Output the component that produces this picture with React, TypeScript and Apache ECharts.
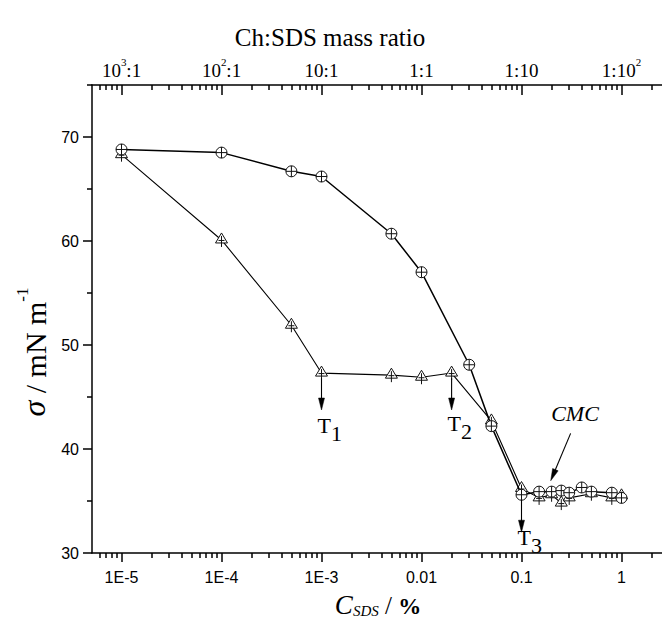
import React, { useEffect, useRef } from 'react';
import * as echarts from 'echarts';

// ---- data ----
const decadeValues = [1e-5, 1e-4, 1e-3, 0.01, 0.1, 1];
const bottomTickLabels = ['1E-5', '1E-4', '1E-3', '0.01', '0.1', '1'];
const topTickLabels = ['10^3:1', '10^2:1', '10:1', '1:1', '1:10', '1:10^2'];
const yTickValues = [30, 40, 50, 60, 70];
const yMinorTickValues = [35, 45, 55, 65, 75];

const circleConc = [1e-5, 1e-4, 5e-4, 1e-3, 5e-3, 0.01, 0.03, 0.05, 0.1, 0.15, 0.2, 0.25, 0.3, 0.4, 0.5, 0.8, 1.0];
const circleSigma = [68.8, 68.5, 66.7, 66.2, 60.7, 57.0, 48.1, 42.2, 35.6, 35.9, 35.9, 36.0, 35.8, 36.3, 35.9, 35.8, 35.3];

const triangleConc = [1e-5, 1e-4, 5e-4, 1e-3, 5e-3, 0.01, 0.02, 0.05, 0.1, 0.15, 0.2, 0.25, 0.3, 0.5, 0.8, 1.0];
const triangleSigma = [68.3, 60.1, 51.9, 47.3, 47.1, 46.9, 47.3, 42.7, 36.2, 35.3, 35.6, 34.8, 35.3, 35.7, 35.3, 35.5];

// transition annotations (T1, T2, T3)
const transitionNames = ['1', '2', '3'];
const transitionConc = [1e-3, 0.02, 0.1];
const transitionFrom = [46.8, 46.8, 35.1];
const transitionTo = [43.75, 43.75, 32.0];

// CMC annotation
const cmcText = 'CMC';
const cmcArrowFrom = [0.31, 41.5];
const cmcArrowTo = [0.196, 36.95];
const cmcTextAt = [0.343, 43.4];

// ---- layout / styles ----
const X_MIN = -5.295;
const X_MAX = 0.405;
const serif = '"Liberation Serif", "Times New Roman", serif';
const sans = '"Liberation Sans", Arial, sans-serif';
const labelDy = [15, 13, 5];

const majorLogs = decadeValues.map((v) => Math.log10(v));
const minorLogs: number[] = [];
for (let k = -6; k <= 0; k++) {
  for (let m = 2; m <= 9; m++) {
    const l = Math.log10(m * Math.pow(10, k));
    if (l > X_MIN && l < X_MAX) minorLogs.push(l);
  }
}

const circleSymbol = 'path://M10,5 A5,5 0 1,1 0,5 A5,5 0 1,1 10,5 Z M0,5 L10,5 M5,0 L5,10';
const triangleSymbol = 'path://M6,0 L12,10 L0,10 Z M6,3 L6,14 M3,7.5 L9,7.5';

function topRich(s: string) {
  const parts = s.split('^');
  if (parts.length === 1) return '{n|' + s + '}';
  const sup = parts[1].charAt(0);
  const rest = parts[1].slice(1);
  return '{n|' + parts[0] + '}{s|' + sup + '}' + (rest ? '{n|' + rest + '}' : '');
}

const axisLine = { show: true, onZero: false, lineStyle: { color: '#000', width: 1.5 } };
const noLine = { show: false, onZero: false };
const tickStyle = { color: '#000', width: 1.5 };

export default function App() {
  const ref = useRef<HTMLDivElement>(null);
  useEffect(() => {
    document.body.style.margin = '0';
    if (!ref.current) return;
    const chart = echarts.init(ref.current, undefined, { renderer: 'svg' });
    const idx = (v: number) => Math.round(v) + 5;
    const option: any = {
      animation: false,
      grid: { left: 92, right: 0, top: 85, bottom: 78, containLabel: false },
      xAxis: [
        {
          type: 'value', position: 'bottom', min: X_MIN, max: X_MAX,
          splitLine: { show: false }, axisLine,
          axisTick: { show: true, customValues: majorLogs, length: 9, lineStyle: tickStyle },
          axisLabel: {
            show: true, customValues: majorLogs, margin: 16, fontSize: 16, fontFamily: sans, color: '#000',
            formatter: (v: number) => bottomTickLabels[idx(v)] ?? '',
          },
        },
        {
          type: 'value', position: 'bottom', min: X_MIN, max: X_MAX,
          splitLine: { show: false }, axisLine: noLine,
          axisTick: { show: true, customValues: minorLogs, length: 5, lineStyle: tickStyle },
          axisLabel: { show: false },
        },
        {
          type: 'value', position: 'top', min: X_MIN, max: X_MAX,
          splitLine: { show: false }, axisLine,
          axisTick: { show: true, inside: true, customValues: majorLogs, length: 10, lineStyle: tickStyle },
          axisLabel: {
            show: true, customValues: majorLogs, margin: 5, color: '#000',
            formatter: (v: number) => topRich(topTickLabels[idx(v)] ?? ''),
            rich: {
              n: { fontSize: 19, fontFamily: serif, color: '#000', lineHeight: 24, verticalAlign: 'bottom' },
              s: { fontSize: 11, fontFamily: serif, color: '#000', lineHeight: 12, verticalAlign: 'top' },
            },
          },
        },
        {
          type: 'value', position: 'top', min: X_MIN, max: X_MAX,
          splitLine: { show: false }, axisLine: noLine,
          axisTick: { show: true, inside: true, customValues: minorLogs, length: 5, lineStyle: tickStyle },
          axisLabel: { show: false },
        },
      ],
      yAxis: [
        {
          type: 'value', position: 'left', min: 30, max: 75,
          splitLine: { show: false }, axisLine,
          axisTick: { show: true, customValues: yTickValues, length: 9, lineStyle: tickStyle },
          axisLabel: { show: true, customValues: yTickValues, margin: 13, fontSize: 16, fontFamily: sans, color: '#000' },
        },
        {
          type: 'value', position: 'left', min: 30, max: 75,
          splitLine: { show: false }, axisLine: noLine,
          axisTick: { show: true, customValues: yMinorTickValues, length: 5, lineStyle: tickStyle },
          axisLabel: { show: false },
        },
      ],
      series: [
        {
          type: 'line', name: 'triangles', xAxisIndex: 0, yAxisIndex: 0,
          data: triangleConc.map((c, i) => [Math.log10(c), triangleSigma[i]]),
          symbol: triangleSymbol, symbolSize: 14, symbolKeepAspect: true,
          itemStyle: { color: '#fff', borderColor: '#111', borderWidth: 1 },
          lineStyle: { color: '#000', width: 1.1 }, z: 3,
        },
        {
          type: 'line', name: 'circles', xAxisIndex: 0, yAxisIndex: 0,
          data: circleConc.map((c, i) => [Math.log10(c), circleSigma[i]]),
          symbol: circleSymbol, symbolSize: 11, symbolKeepAspect: true,
          itemStyle: { color: '#fff', borderColor: '#111', borderWidth: 1 },
          lineStyle: { color: '#000', width: 1.5 }, z: 4,
        },
      ],
    };
    chart.setOption(option);

    const px = (c: number, s: number) => chart.convertToPixel({ xAxisIndex: 0, yAxisIndex: 0 }, [Math.log10(c), s]) as number[];
    const txt = (x: number, y: number, text: string, font: string, align = 'center', extra: any = {}) => ({
      type: 'text', x, y, z: 100, ...extra,
      style: { text, font, fill: '#000', align, textAlign: align, verticalAlign: 'middle', textVerticalAlign: 'middle' },
    });
    const arrow = (x1: number, y1: number, x2: number, y2: number) => {
      const dx = x2 - x1, dy = y2 - y1;
      const len = Math.sqrt(dx * dx + dy * dy);
      const ux = dx / len, uy = dy / len;
      const hl = 12, hw = 3;
      const bx = x2 - ux * hl, by = y2 - uy * hl;
      return [
        { type: 'line', z: 100, shape: { x1, y1, x2: bx + ux * 2, y2: by + uy * 2 }, style: { stroke: '#000', lineWidth: 1.1 } },
        {
          type: 'polygon', z: 100,
          shape: { points: [[x2, y2], [bx - uy * hw, by + ux * hw], [bx + uy * hw, by - ux * hw]] },
          style: { fill: '#000', stroke: '#000', lineWidth: 0.5 },
        },
      ];
    };
    const graphics: any[] = [];
    transitionNames.forEach((nm, i) => {
      const a = px(transitionConc[i], transitionFrom[i]);
      const b = px(transitionConc[i], transitionTo[i]);
      graphics.push(...arrow(a[0], a[1], b[0], b[1]));
      graphics.push(txt(b[0] - 4, b[1] + labelDy[i], 'T', `22px ${serif}`, 'left'));
      graphics.push(txt(b[0] + 9.5, b[1] + labelDy[i] + 8, nm, `22px ${serif}`, 'left'));
    });
    const ca = px(cmcArrowFrom[0], cmcArrowFrom[1]);
    const cb = px(cmcArrowTo[0], cmcArrowTo[1]);
    graphics.push(...arrow(ca[0], ca[1], cb[0], cb[1]));
    const ct = px(cmcTextAt[0], cmcTextAt[1]);
    graphics.push(txt(ct[0], ct[1], cmcText, `italic 22px ${serif}`));

    // title (top axis name)
    graphics.push(txt(330, 37, 'Ch:SDS mass ratio', `25px ${serif}`));
    // x axis name
    graphics.push({
      type: 'text', x: 378, y: 603, z: 100,
      style: {
        text: '{i|C}{sub|SDS}{n| / }{b|%}', align: 'center', textAlign: 'center', verticalAlign: 'middle', textVerticalAlign: 'middle',
        rich: {
          i: { fontSize: 27, fontFamily: serif, fontStyle: 'italic', fill: '#000', lineHeight: 30, verticalAlign: 'bottom' },
          sub: { fontSize: 15, fontFamily: serif, fontStyle: 'italic', fill: '#000', lineHeight: 14, verticalAlign: 'bottom' },
          n: { fontSize: 25, fontFamily: serif, fill: '#000', lineHeight: 30, verticalAlign: 'bottom' },
          b: { fontSize: 23, fontFamily: serif, fontWeight: 'bold', fill: '#000', lineHeight: 30, verticalAlign: 'bottom' },
        },
      },
    });
    // y axis name
    graphics.push({
      type: 'text', x: 32, y: 352, rotation: Math.PI / 2, z: 100,
      style: {
        text: '{i|σ}{n| / mN m}{s|-1}', align: 'center', textAlign: 'center', verticalAlign: 'middle', textVerticalAlign: 'middle',
        rich: {
          i: { fontSize: 32, fontFamily: serif, fontStyle: 'italic', fill: '#000', lineHeight: 36, verticalAlign: 'bottom' },
          n: { fontSize: 30, fontFamily: serif, fill: '#000', lineHeight: 36, verticalAlign: 'bottom' },
          s: { fontSize: 17, fontFamily: serif, fill: '#000', lineHeight: 18, verticalAlign: 'top' },
        },
      },
    });
    chart.setOption({ graphic: graphics });

    return () => chart.dispose();
  }, []);
  return <div ref={ref} style={{ width: 662, height: 631 }} />;
}
